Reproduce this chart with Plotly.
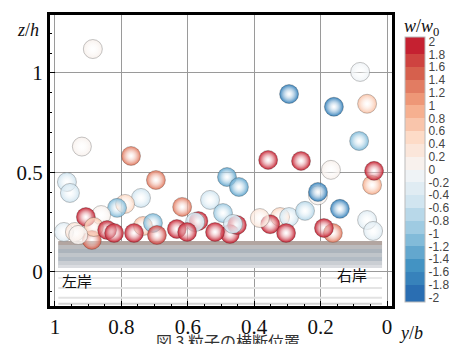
import plotly.graph_objects as go

# ---- data ----
px = [0.886, 0.919, 0.771, 0.081, 0.295, 0.160, 0.060, 0.084, 0.358, 0.259,
      0.169, 0.045, 0.039, 0.208, 0.208, 0.142, 0.322, 0.295, 0.247, 0.352,
      0.304, 0.060, 0.042, 0.163, 0.190, 0.482, 0.446, 0.533, 0.617, 0.494,
      0.473, 0.452, 0.464, 0.568, 0.578, 0.633, 0.602, 0.518, 0.383,
      0.964, 0.955, 0.696, 0.741, 0.789, 0.813, 0.889, 0.861, 0.907, 0.883,
      0.973, 0.940, 0.930, 0.843, 0.822, 0.735, 0.705, 0.762, 0.693]
pz = [1.120, 0.630, 0.583, 1.005, 0.894, 0.830, 0.845, 0.658, 0.563, 0.558,
      0.513, 0.437, 0.508, 0.385, 0.402, 0.317, 0.276, 0.276, 0.307, 0.240,
      0.196, 0.261, 0.206, 0.196, 0.221, 0.477, 0.427, 0.362, 0.327, 0.296,
      0.191, 0.236, 0.241, 0.256, 0.251, 0.216, 0.201, 0.201, 0.271,
      0.452, 0.397, 0.462, 0.372, 0.342, 0.322, 0.161, 0.286, 0.276, 0.226,
      0.201, 0.201, 0.186, 0.211, 0.196, 0.231, 0.246, 0.196, 0.186]
pw = [0.15, 0.0, 1.3, -0.1, -1.8, -1.8, 0.6, -1.2, 1.9, 1.9,
      0.0, 0.9, 1.8, 0.0, -1.8, -1.8, 0.5, -0.6, -0.8, 1.8,
      1.8, -0.3, -0.3, 1.2, 1.8, -1.4, -1.4, -0.6, 1.2, -1.0,
      1.8, 1.8, -0.6, 1.8, -0.6, 1.8, 1.9, 1.9, 0.3,
      -0.4, -0.4, 1.2, -0.5, 0.5, -1.2, 1.5, 0.0, 1.9, 0.6,
      -0.3, 0.2, 0.1, 1.9, 1.8, 0.6, -1.2, 1.9, 1.7]

x_ticks = [1, 0.8, 0.6, 0.4, 0.2, 0]
x_labels = ["1", "0.8", "0.6", "0.4", "0.2", "0"]
z_ticks = [0, 0.5, 1]
z_labels = ["0", "0.5", "1"]
cb_ticks = [2, 1.8, 1.6, 1.4, 1.2, 1, 0.8, 0.6, 0.4, 0.2, 0,
            -0.2, -0.4, -0.6, -0.8, -1, -1.2, -1.4, -1.6, -1.8, -2]
cb_labels = ["2", "1.8", "1.6", "1.4", "1.2", "1", "0.8", "0.6", "0.4", "0.2", "0",
             "-0.2", "-0.4", "-0.6", "-0.8", "-1", "-1.2", "-1.4", "-1.6", "-1.8", "-2"]

# bed layers (sediment bed drawn as stripes)
bed_z = [0.145, 0.125, 0.105, 0.085, 0.065, 0.045, 0.027, -0.03, -0.08, -0.13, -0.16]
bed_col = ["rgb(178,165,160)", "rgb(188,188,190)", "rgb(172,180,188)", "rgb(192,197,202)",
           "rgb(178,187,196)", "rgb(202,206,211)", "rgb(218,220,224)", "rgb(232,232,232)",
           "rgb(228,228,228)", "rgb(226,226,226)", "rgb(212,212,212)"]
bed_wid = [4, 4, 4, 4, 4, 4, 3, 2, 2, 2, 2]
bed_x = [0.99, 0.015]

# ---- discrete colorscale ----
base = [(-2.0, (38, 105, 175)), (-1.5, (67, 147, 195)), (-1.0, (146, 197, 222)),
        (-0.5, (209, 229, 240)), (0.0, (247, 247, 247)), (0.5, (253, 219, 199)),
        (1.0, (244, 165, 130)), (1.5, (214, 96, 77)), (2.0, (195, 24, 45))]


def interp(v):
    for (a, ca), (b, cb) in zip(base[:-1], base[1:]):
        if a <= v <= b:
            t = (v - a) / (b - a)
            return "rgb(%d,%d,%d)" % tuple(round(ca[i] + t * (cb[i] - ca[i])) for i in range(3))
    return "rgb(%d,%d,%d)" % (base[-1][1] if v > 0 else base[0][1])


CMIN, CMAX = -2.07, 2.07
edges = [-2.07] + [round(-1.8 + 0.2 * k, 2) for k in range(19)] + [2.07]
cscale = []
for lo, hi in zip(edges[:-1], edges[1:]):
    c = interp(max(-2, min(2, (lo + hi) / 2)))
    cscale.append([(lo - CMIN) / (CMAX - CMIN), c])
    cscale.append([(hi - CMIN) / (CMAX - CMIN), c])
cscale[0][0] = 0.0
cscale[-1][0] = 1.0

fig = go.Figure()

# bed
fig.add_trace(go.Scatter(x=[bed_x[0], bed_x[1], bed_x[1], bed_x[0]],
                         y=[0.02, 0.02, 0.15, 0.15], fill="toself",
                         fillcolor="rgb(200,204,208)", line=dict(width=0),
                         mode="lines", hoverinfo="skip", showlegend=False))
for z, c, w in zip(bed_z, bed_col, bed_wid):
    fig.add_trace(go.Scatter(x=bed_x, y=[z, z], mode="lines",
                             line=dict(color=c, width=w), hoverinfo="skip",
                             showlegend=False))

# particles
fig.add_trace(go.Scatter(
    x=px, y=pz, mode="markers", showlegend=False,
    marker=dict(size=19, color=pw, colorscale=cscale, cmin=CMIN, cmax=CMAX,
                gradient=dict(type="radial", color="rgba(255,255,255,0.3)"),
                line=dict(color="rgba(50,50,50,0.4)", width=0.7),
                colorbar=dict(thickness=20, len=265, lenmode="pixels",
                              x=1.035, xanchor="left", xpad=0,
                              y=0.469, yanchor="middle", ypad=0,
                              tickvals=cb_ticks, ticktext=cb_labels,
                              ticks="", outlinewidth=1, outlinecolor="#bbbbbb",
                              tickfont=dict(family="Liberation Sans", size=12, color="#444444")))))

axis_common = dict(showline=True, linecolor="black", linewidth=2, mirror=True,
                   ticks="inside", ticklen=6, tickcolor="black", tickwidth=1.2,
                   showgrid=True, gridcolor="#9a9a9a", gridwidth=1, zeroline=False,
                   layer="above traces",
                   tickfont=dict(family="Liberation Serif", size=21, color="#111111"))

fig.update_xaxes(range=[1.018, -0.018], tickvals=x_ticks, ticktext=x_labels,
                 minor=dict(dtick=0.05, ticks="inside", ticklen=3, tickcolor="black",
                            showgrid=False),
                 **axis_common)
fig.update_yaxes(range=[-0.176, 1.296], tickvals=z_ticks, ticktext=z_labels,
                 minor=dict(dtick=0.1, ticks="inside", ticklen=3, tickcolor="black",
                            showgrid=False),
                 **axis_common)

# frame around plot area
fig.add_shape(type="rect", xref="paper", yref="paper", x0=0, y0=0, x1=1, y1=1,
              line=dict(color="black", width=2), layer="above")

ann = [
    dict(text="<i>z</i>/<i>h</i>", x=-0.1, y=0.945, xref="paper", yref="paper",
         xanchor="left", yanchor="middle", showarrow=False,
         font=dict(family="Liberation Serif", size=18, color="#111")),
    dict(text="<i>y</i>/<i>b</i>", x=1.012, y=-0.13, xref="paper", yref="paper",
         xanchor="left", yanchor="bottom", showarrow=False,
         font=dict(family="Liberation Serif", size=18, color="#111")),
    dict(text="<i>w</i>/<i>w</i><sub>0</sub>", x=1.14, y=0.955, xref="paper", yref="paper",
         xanchor="right", yanchor="middle", showarrow=False,
         font=dict(family="Liberation Serif", size=18, color="#111")),
    dict(text="左岸", x=0.935, y=-0.045, xref="x", yref="y", showarrow=False,
         font=dict(family="Noto Sans CJK JP", size=15, color="#111")),
    dict(text="右岸", x=0.105, y=-0.015, xref="x", yref="y", showarrow=False,
         font=dict(family="Noto Sans CJK JP", size=15, color="#111")),
    dict(text="図 3 粒子の横断位置", x=0.52, y=-0.068, xref="paper", yref="paper",
         yanchor="top", showarrow=False,
         font=dict(family="Noto Sans CJK JP", size=16, color="#333")),
]
fig.update_layout(width=457, height=344,
                  margin=dict(l=41, r=72, t=6, b=45, pad=0, autoexpand=False),
                  paper_bgcolor="white", plot_bgcolor="white", annotations=ann)

fig.write_html("out.html")
